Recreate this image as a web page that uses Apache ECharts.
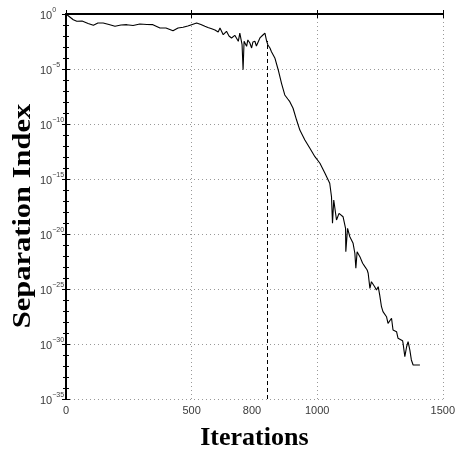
<!DOCTYPE html>
<html>
<head>
<meta charset="utf-8">
<script src="https://cdn.jsdelivr.net/npm/echarts@6/dist/echarts.min.js"></script>
<style>
html,body{margin:0;padding:0;background:#fff;}
#chart{width:458px;height:462px;}
</style>
</head>
<body>
<div id="chart"></div>
<script>
// Iteration number of each traced point
const iterations = [0,4,29,43,64,88,109,127,148,171,195,219,242,267,294,322,346,374,398,426,446,466,485,500,520,537,553,565,580,593,606,613,626,639,649,659,672,686,692,701,705,709,719,724,732,739,744,752,758,765,772,779,784,792,799,804,812,818,832,845,858,871,883,891,904,918,931,951,971,991,1011,1031,1050,1057,1061,1066,1077,1087,1103,1113,1114,1121,1130,1143,1150,1154,1159,1170,1181,1190,1199,1203,1210,1216,1223,1229,1236,1243,1249,1256,1262,1269,1276,1282,1296,1302,1316,1322,1329,1340,1342,1349,1356,1362,1369,1375,1382,1409];
// Separation index, as base-10 exponent (value = 10^exponent)
const separationExp = [0,-0.05,-0.52,-0.66,-0.64,-0.86,-1.03,-0.82,-0.82,-0.95,-1.12,-1.0,-0.97,-1.05,-0.91,-0.95,-0.97,-1.27,-1.27,-1.52,-1.27,-1.21,-1.09,-0.97,-0.82,-0.95,-1.12,-1.23,-1.34,-1.45,-1.64,-1.27,-1.88,-1.57,-2.0,-2.18,-1.94,-2.48,-1.73,-2.79,-5.06,-2.48,-2.94,-2.36,-2.64,-3.09,-2.55,-2.48,-2.91,-2.79,-2.18,-2.18,-1.91,-1.73,-2.48,-2.82,-3.09,-3.43,-4.03,-5.09,-6.30,-7.36,-7.73,-7.97,-8.57,-9.64,-10.55,-11.45,-12.21,-12.97,-13.57,-14.48,-15.39,-16.61,-19.03,-16.91,-18.73,-18.12,-18.43,-19.48,-21.61,-19.48,-20.25,-20.85,-21.75,-23.12,-21.61,-22.06,-22.66,-22.97,-23.27,-23.57,-24.94,-24.34,-24.18,-24.79,-25.09,-24.79,-25.55,-26.61,-27.06,-27.21,-27.52,-28.12,-27.66,-28.73,-28.88,-29.48,-29.34,-29.7,-29.94,-31.15,-30.25,-29.79,-30.55,-31.45,-31.91,-31.91];
// Axis ticks
const xTicks = [0, 500, 1000, 1500];
const xMarkedTick = [800];
const yTickExps = [0, -5, -10, -15, -20, -25, -30, -35];
const markIteration = 800;
const markLevelExp = -2.45;

const data = iterations.map((x, i) => [x, separationExp[i]]);
const chart = echarts.init(document.getElementById('chart'));
const labelColor = '#3a3a3a';
const fontFam = '"Liberation Sans", Arial, sans-serif';
const yFmt = v => '{b|10}{s|' + (v === 0 ? '0' : '\u2212' + Math.abs(v)) + '}';
const rich = {
  b: {fontSize: 11, color: labelColor, fontFamily: fontFam, verticalAlign: 'bottom', lineHeight: 14},
  s: {fontSize: 7, color: labelColor, fontFamily: fontFam, verticalAlign: 'top', lineHeight: 8}
};
chart.setOption({
  animation: false,
  backgroundColor: '#fff',
  grid: {left: 66, right: 15, top: 14, bottom: 63},
  xAxis: [
    {type: 'value', position: 'bottom', min: 0, max: 1500, interval: 500,
     axisLine: {lineStyle: {color: '#000', width: 2}},
     axisTick: {inside: true, length: 4, lineStyle: {color: '#000'}},
     axisLabel: {color: labelColor, fontSize: 11, fontFamily: fontFam, margin: 6, customValues: xTicks, formatter: v => String(v)},
     splitLine: {show: true, lineStyle: {color: '#999', type: [1, 3], width: 1}},
     name: 'Iterations', nameLocation: 'middle', nameGap: 26,
     nameTextStyle: {fontFamily: '"Liberation Serif", "Times New Roman", serif', fontWeight: 'bold', fontSize: 26, color: '#000'}
    },
    {type: 'value', position: 'top', min: 0, max: 1500, interval: 500,
     axisLine: {show: true, lineStyle: {color: '#000', width: 1}},
     axisTick: {inside: true, length: 4, lineStyle: {color: '#000'}},
     axisLabel: {show: false}, splitLine: {show: false}
    },
    {type: 'value', position: 'bottom', min: 0, max: 1500,
     axisLine: {show: false}, axisTick: {show: false}, splitLine: {show: false},
     axisLabel: {customValues: xMarkedTick, margin: 6, formatter: v => '{m|' + v + '}',
       rich: {m: {color: labelColor, fontSize: 11, fontFamily: fontFam, padding: [0, 30, 0, 0]}}}
    }
  ],
  yAxis: [
    {type: 'value', position: 'left', min: -35, max: 0, interval: 5,
     axisLine: {show: true, lineStyle: {color: '#000', width: 2}},
     axisTick: {inside: true, length: 4, lineStyle: {color: '#000'}},
     minorTick: {show: true, splitNumber: 5, length: 3, lineStyle: {color: '#000'}},
     axisLabel: {align: 'left', margin: 26, formatter: yFmt, rich: rich, customValues: yTickExps},
     splitLine: {show: true, lineStyle: {color: '#999', type: [1, 3], width: 1}}
    },
    {type: 'value', position: 'right', min: -35, max: 0, interval: 5,
     axisLine: {show: true, lineStyle: {color: '#000', width: 1}},
     axisTick: {inside: true, length: 4, lineStyle: {color: '#000'}},
     minorTick: {show: true, splitNumber: 5, length: 3, lineStyle: {color: '#000'}},
     axisLabel: {show: false}, splitLine: {show: false}
    }
  ],
  graphic: [{
    type: 'text', rotation: Math.PI / 2,
    x: 24, y: 216, scaleX: 1.22,
    style: {text: 'Separation Index', font: 'bold 25px "Liberation Serif", "Times New Roman", serif', fill: '#000', align: 'center', verticalAlign: 'middle'}
  }],
  series: [{
    type: 'line', xAxisIndex: 0, yAxisIndex: 0, data: data, showSymbol: false, symbol: 'none',
    lineStyle: {color: '#000', width: 1.1}, z: 5,
    markLine: {silent: true, symbol: 'none', label: {show: false},
      lineStyle: {color: '#000', type: [4, 3], width: 1},
      data: [[{coord: [markIteration, -35]}, {coord: [markIteration, markLevelExp]}]]}
  }]
});
</script>
</body>
</html>
